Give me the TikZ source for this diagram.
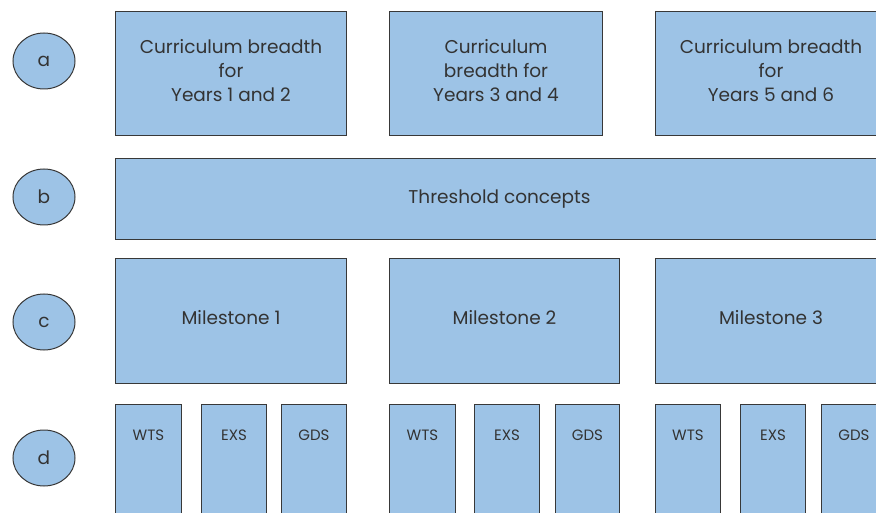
\documentclass[tikz,border=0pt]{standalone}
\usepackage{fontspec}
\setmainfont{Poppins}
\usepackage{tikz}
\usetikzlibrary{positioning,shapes.geometric}
\definecolor{PlanBlue}{HTML}{9DC3E6}
\definecolor{PlanEdge}{HTML}{383838}
\definecolor{PlanText}{HTML}{333333}
\tikzset{
  plan/box/.style={draw=PlanEdge, fill=PlanBlue, line width=1pt, inner sep=0pt, anchor=north west, align=center, text=PlanText, font=\fontsize{18.5}{24}\selectfont},
  plan/grade/.style={plan/box, minimum width=66pt, minimum height=130pt},
  plan/code/.style={inner sep=0pt, text=PlanText, font=\fontsize{15}{16}\selectfont},
  plan/tag/.style={draw=PlanEdge, fill=PlanBlue, ellipse, line width=1pt, minimum width=62pt, minimum height=56pt, inner sep=0pt, text=PlanText, font=\fontsize{18.5}{20}\selectfont}
}

\begin{document}
\begin{tikzpicture}[x=1pt, y=-1pt]
  \useasboundingbox (0,0) rectangle (876,513);
  \clip (0,0) rectangle (876,513);

  % row labels
  \node[plan/tag] (tagA) at (44,61) {a};
  \node[plan/tag] (tagB) at (44,197) {b};
  \node[plan/tag] (tagC) at (44,322) {c};
  \node[plan/tag] (tagD) at (44,458) {d};

  % curriculum breadth
  \node[plan/box, minimum width=231pt, minimum height=124pt, text depth=7pt] (yr12) at (115,11) {Curriculum breadth\\for\\Years 1 and 2};
  \node[plan/box, minimum width=213pt, minimum height=124pt, text depth=7pt] (yr34) at (389,11) {Curriculum\\breadth for\\Years 3 and 4};
  \node[plan/box, minimum width=231pt, minimum height=124pt, text depth=7pt] (yr56) at (655,11) {Curriculum breadth\\for\\Years 5 and 6};

  % threshold concepts
  \node[plan/box, minimum width=768pt, minimum height=81pt] (thresh) at (115,158) {Threshold concepts};

  % milestones
  \node[plan/box, minimum width=231pt, minimum height=125pt, text depth=7pt] (ms1) at (115,258) {Milestone 1};
  \node[plan/box, minimum width=230pt, minimum height=125pt, text depth=7pt] (ms2) at (389,258) {Milestone 2};
  \node[plan/box, minimum width=231pt, minimum height=125pt, text depth=7pt] (ms3) at (655,258) {Milestone 3};

  % standards per milestone
  \node[plan/grade] (ms1w) at (115,404) {};
  \node[plan/grade, minimum width=65pt] (ms1e) at (201,404) {};
  \node[plan/grade, minimum width=65pt] (ms1g) at (281,404) {};
  \node[plan/grade] (ms2w) at (389,404) {};
  \node[plan/grade, minimum width=65pt] (ms2e) at (474,404) {};
  \node[plan/grade, minimum width=64pt] (ms2g) at (555,404) {};
  \node[plan/grade, minimum width=65pt] (ms3w) at (655,404) {};
  \node[plan/grade, minimum width=65pt] (ms3e) at (740,404) {};
  \node[plan/grade, minimum width=65pt] (ms3g) at (821,404) {};

  \node[plan/code, below=26pt of ms1w.north] (ms1wt) {WTS};
  \node[plan/code, below=26pt of ms1e.north] (ms1et) {EXS};
  \node[plan/code, below=26pt of ms1g.north] (ms1gt) {GDS};
  \node[plan/code, below=26pt of ms2w.north] (ms2wt) {WTS};
  \node[plan/code, below=26pt of ms2e.north] (ms2et) {EXS};
  \node[plan/code, below=26pt of ms2g.north] (ms2gt) {GDS};
  \node[plan/code, below=26pt of ms3w.north] (ms3wt) {WTS};
  \node[plan/code, below=26pt of ms3e.north] (ms3et) {EXS};
  \node[plan/code, below=26pt of ms3g.north] (ms3gt) {GDS};
\end{tikzpicture}
\end{document}
